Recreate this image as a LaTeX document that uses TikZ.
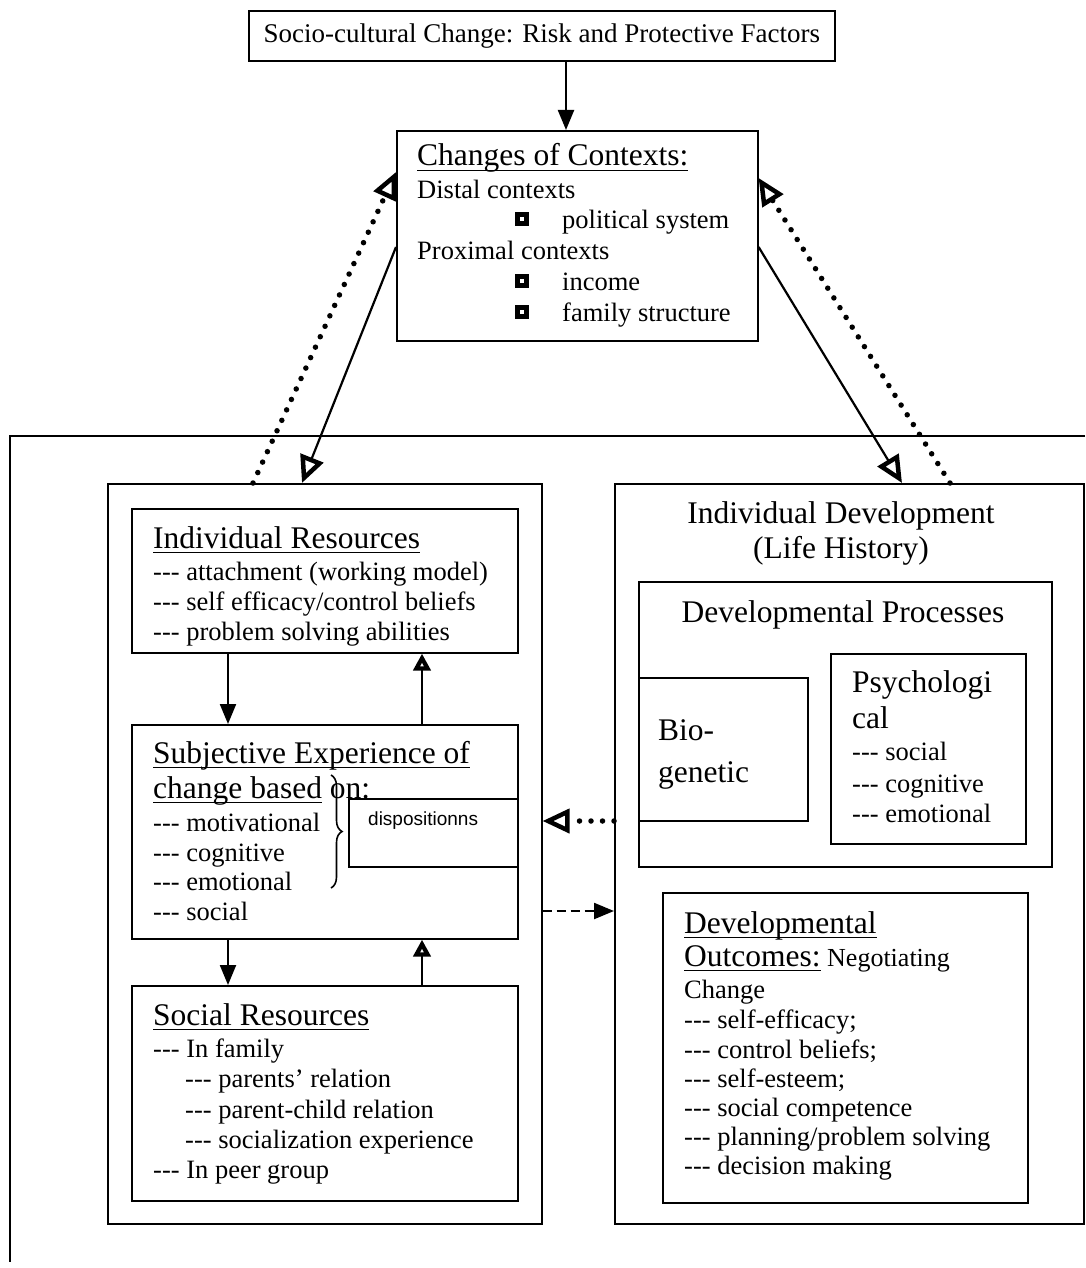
\documentclass[tikz,border=0pt]{standalone}
\usepackage{fontspec}
\setmainfont{Liberation Serif}
\newfontfamily\dispfont{Liberation Sans}
\usetikzlibrary{arrows.meta,calc,decorations.pathreplacing}
\newcommand\ulin[1]{\setbox0\hbox{#1}\rlap{\rule[-5pt]{\wd0}{1.4pt}}\box0\relax}
\newcommand\dsh{\mbox{-}\mbox{-}\mbox{-}}
\begin{document}
\begin{tikzpicture}[x=1pt,y=-1pt,
  box/.style={draw, line width=1.6pt, inner sep=0pt, anchor=north west},
  ttl/.style={font=\fontsize{31.5}{36}\selectfont, anchor=base west, inner sep=0pt},
  txt/.style={font=\fontsize{26.5}{30}\selectfont, anchor=base west, inner sep=0pt},
  sq/.style={draw, line width=5pt, fill=white, minimum size=9pt, inner sep=0pt},
  conn/.style={line width=2.2pt},
  fillarrow/.style={conn, -{Triangle[length=20pt 0, width=16pt 0]}},
  openarrow/.style={conn, -{Triangle[open, length=27pt 0, width=24pt 0, line width=4.5pt 0]}},
  smallopen/.style={conn, -{Triangle[open, length=17pt 0, width=17pt 0, line width=5pt 0]}},
  dotline/.style={line width=5.5pt, line cap=round, dash pattern=on 0pt off 11.5pt,
     -{Triangle[open, length=27pt 0, width=24pt 0, line width=4.5pt 0]}},
  dashline/.style={conn, dash pattern=on 9pt off 5pt, -{Triangle[length=20pt 0, width=16pt 0]}}
]
\useasboundingbox (0,0) rectangle (1085,1268);
\fill[white] (0,0) rectangle (1085,1268);

% outer frame (partly outside the picture)
\draw[line width=1.6pt] (1085,436) -- (10,436) -- (10,1262);

% boxes
\node[box, minimum width=586pt, minimum height=50pt, font=\fontsize{27}{30}\selectfont] (top) at (248,10) {Socio-cultural Change: Risk and Protective Factors};
\node[box, minimum width=361pt, minimum height=210pt] (ctx) at (396,130) {};
\node[box, minimum width=434pt, minimum height=740pt] (lmid) at (107,483) {};
\node[box, minimum width=469pt, minimum height=740pt] (rmid) at (614,483) {};
\node[box, minimum width=386pt, minimum height=144pt] (ires) at (131,508) {};
\node[box, minimum width=386pt, minimum height=214pt] (subj) at (131,724) {};
\node[box, minimum width=386pt, minimum height=215pt] (soc) at (131,985) {};
\node[box, minimum width=413pt, minimum height=285pt] (dproc) at (638,581) {};
\node[box, minimum width=169pt, minimum height=143pt] (bio) at (638,677) {};
\node[box, minimum width=195pt, minimum height=190pt] (psy) at (830,653) {};
\node[box, minimum width=365pt, minimum height=310pt] (dout) at (662,892) {};

% context texts
\node[ttl] (ctxT) at (417,166) {\ulin{Changes of Contexts:}};
\node[txt] (ctx1) at (417,198) {Distal contexts};
\node[sq] (bq1) at (522,219) {};
\node[txt] (ctx2) at (562,228) {political system};
\node[txt] (ctx3) at (417,259) {Proximal contexts};
\node[sq] (bq2) at (522,281) {};
\node[txt] (ctx4) at (562,290) {income};
\node[sq] (bq3) at (522,312) {};
\node[txt] (ctx5) at (562,321) {family structure};

% individual resources
\node[ttl] (ir0) at (153,548) {\ulin{Individual Resources}};
\node[txt] (ir1) at (153,580) {\dsh{} attachment (working model)};
\node[txt] (ir2) at (153,610) {\dsh{} self efficacy/control beliefs};
\node[txt] (ir3) at (153,640) {\dsh{} problem solving abilities};

% subjective experience
\node[ttl] (sb0) at (153,763) {\ulin{Subjective Experience of}};
\node[ttl] (sb1) at (153,798) {\ulin{change based} on:};
\node[txt] (sb2) at (153,831) {\dsh{} motivational};
\node[txt] (sb3) at (153,861) {\dsh{} cognitive};
\node[txt] (sb4) at (153,890) {\dsh{} emotional};
\node[txt] (sb5) at (153,920) {\dsh{} social};
\node[box, fill=white, minimum width=169pt, minimum height=68pt] (disp) at (348,798) {};
\node[anchor=base west, inner sep=0pt, font=\dispfont\fontsize{19}{22}\selectfont] (dispT) at (368,825) {dispositionns};
\draw[line width=1.6pt, decorate, decoration={brace, amplitude=11pt}] (331,775) -- (331,888);

% social resources
\node[ttl] (so0) at (153,1025) {\ulin{Social Resources}};
\node[txt] (so1) at (153,1057) {\dsh{} In family};
\node[txt] (so2) at (185,1087) {\dsh{} parents' relation};
\node[txt] (so3) at (185,1118) {\dsh{} parent-child relation};
\node[txt] (so4) at (185,1148) {\dsh{} socialization experience};
\node[txt] (so5) at (153,1178) {\dsh{} In peer group};

% individual development
\node[ttl, anchor=base] (id0) at (841,523) {Individual Development};
\node[ttl, anchor=base] (id1) at (841,558) {(Life History)};
\node[ttl, anchor=base] (dp0) at (843,622) {Developmental Processes};
\node[ttl] (bg0) at (658,740) {Bio-};
\node[ttl] (bg1) at (658,782) {genetic};
\node[ttl] (ps0) at (852,692) {Psychologi};
\node[ttl] (ps1) at (852,728) {cal};
\node[txt] (ps2) at (852,760) {\dsh{} social};
\node[txt] (ps3) at (852,792) {\dsh{} cognitive};
\node[txt] (ps4) at (852,822) {\dsh{} emotional};

% developmental outcomes
\node[ttl] (do0) at (684,933) {\ulin{Developmental}};
\node[ttl] (do1) at (684,966) {\ulin{Outcomes:}\fontsize{26}{30}\selectfont{} Negotiating};
\node[txt] (do2) at (684,998) {Change};
\node[txt] (do3) at (684,1028) {\dsh{} self-efficacy;};
\node[txt] (do4) at (684,1058) {\dsh{} control beliefs;};
\node[txt] (do5) at (684,1087) {\dsh{} self-esteem;};
\node[txt] (do6) at (684,1116) {\dsh{} social competence};
\node[txt] (do7) at (684,1145) {\dsh{} planning/problem solving};
\node[txt] (do8) at (684,1174) {\dsh{} decision making};

% connectors
\draw[fillarrow] ($(top.south west)+(318,0)$) -- ($(ctx.north west)+(170,0)$);
\draw[openarrow] ($(ctx.north west)+(0,117)$) -- ($(lmid.north west)+(195,0)$);
\draw[dotline] ($(lmid.north west)+(146,0)$) -- ($(ctx.north west)+(0,42)$);
\draw[openarrow] ($(ctx.north east)+(0,117)$) -- ($(rmid.north west)+(288,0)$);
\draw[dotline] ($(rmid.north west)+(336,0)$) -- ($(ctx.north east)+(0,48)$);
\draw[fillarrow] ($(ires.south west)+(97,0)$) -- ($(subj.north west)+(97,0)$);
\draw[smallopen] ($(subj.north west)+(291,0)$) -- ($(ires.south west)+(291,0)$);
\draw[fillarrow] ($(subj.south west)+(97,0)$) -- ($(soc.north west)+(97,0)$);
\draw[smallopen] ($(soc.north west)+(291,0)$) -- ($(subj.south west)+(291,0)$);
\draw[dotline] ($(rmid.north west)+(0,338)$) -- ($(lmid.north east)+(0,338)$);
\draw[dashline] ($(lmid.north east)+(0,428)$) -- ($(rmid.north west)+(0,428)$);
\end{tikzpicture}
\end{document}
